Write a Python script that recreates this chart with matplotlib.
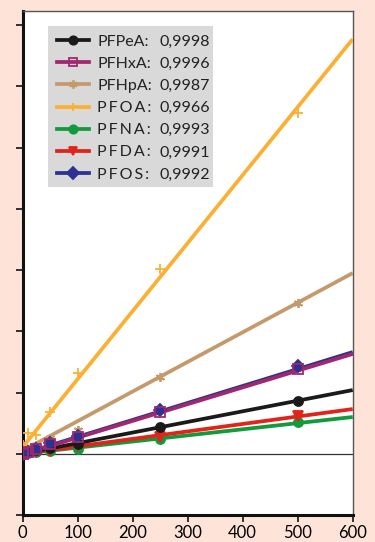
import matplotlib.pyplot as plt
from matplotlib.patches import Rectangle

# calibration data (arbitrary y units)
conc = [0, 10, 25, 50, 100, 250, 500]
ts = '\u2009'
names = ['PFPeA:', 'PFHxA:', 'PFHpA:', ts.join('PFOA:'), ts.join('PFNA:'),
         ts.join('PFDA:'), ts.join('PFOS:')]
r2_labels = ['0,9998', '0,9996', '0,9987', '0,9966', '0,9993', '0,9991', '0,9992']

pfpea = [0.0, 0.03, 0.06, 0.10, 0.16, 0.44, 0.86]
pfhxa = [0.0, 0.03, 0.08, 0.16, 0.28, 0.69, 1.38]
pfhpa = [0.02, 0.08, 0.15, 0.25, 0.39, 1.25, 2.46]
pfoa = [0.15, 0.34, 0.30, 0.68, 1.32, 3.02, 5.56]
pfna = [0.0, 0.02, 0.03, 0.05, 0.08, 0.24, 0.52]
pfda = [0.0, 0.01, 0.03, 0.05, 0.12, 0.28, 0.62]
pfos = [0.0, 0.03, 0.08, 0.17, 0.29, 0.71, 1.43]

# regression line ends at x=0 and x=600
fit_x = [0, 600]
fit_start = [0.0, -0.01, 0.05, 0.11, 0.0, 0.0, 0.0]
fit_end = [1.04, 1.63, 2.95, 6.77, 0.60, 0.73, 1.66]

colors = ['#1a1a1a', '#a0286e', '#c49a6c', '#fbb034', '#129a3c', '#e2231a', '#2e3192']
markers = ['o', 's', (6, 2, 0), '+', 'o', 'v', 'D']
filled = [True, False, True, True, True, True, True]
series = [pfpea, pfhxa, pfhpa, pfoa, pfna, pfda, pfos]
zorder = [5, 6, 4, 3, 4, 4, 5]

plt.rcParams['font.family'] = ['Lato', 'DejaVu Sans']

fig = plt.figure(figsize=(3.75, 5.42), dpi=100)
fig.patch.set_facecolor('#fde3d8')
ax = fig.add_axes([0.0605, 0.0498, 0.88, 0.93])

ax.axhline(0, color='#333333', lw=0.9, zorder=1)

handles = []
for i, ys in enumerate(series):
    ax.plot(fit_x, [fit_start[i], fit_end[i]], color=colors[i], lw=2.7, zorder=zorder[i],
            solid_capstyle='butt')
    ax.plot(conc, ys, ls='none', marker=markers[i], color=colors[i], ms=6.5,
            mfc=colors[i] if filled[i] else 'none', mew=1.3, zorder=zorder[i] + 1)
    h, = ax.plot([], [], color=colors[i], lw=2.7, marker=markers[i], ms=6,
                 mfc=colors[i] if filled[i] else 'none', mew=1.3)
    handles.append(h)

ax.set_xlim(0, 600)
ax.set_ylim(-1, 7.23)
ax.set_xticks(range(0, 601, 100))
ax.set_yticks(range(-1, 8))
ax.set_yticklabels([])
ax.tick_params(axis='both', direction='out', length=5, width=1.3, color='#222222',
               labelsize=12, pad=2)
for s in ['left', 'bottom']:
    ax.spines[s].set_linewidth(2.2)
    ax.spines[s].set_color('#111111')
for s in ['top', 'right']:
    ax.spines[s].set_linewidth(1.0)
    ax.spines[s].set_color('#555555')

# grey legend box
ax.add_patch(Rectangle((0.077, 0.65), 0.5, 0.32, transform=ax.transAxes,
                       facecolor='#d9d9d9', edgecolor='none', zorder=8))
leg = ax.legend(handles, names, loc='upper left', bbox_to_anchor=(0.085, 0.966),
                frameon=False, fontsize=11.5, handlelength=2.0, handletextpad=0.5,
                labelspacing=0.5, borderaxespad=0)
leg.set_zorder(9)

fig.canvas.draw()
inv = ax.transAxes.inverted()
for t, val in zip(leg.get_texts(), r2_labels):
    bb = t.get_window_extent()
    yc = inv.transform((0, (bb.y0 + bb.y1) / 2))[1]
    ax.text(0.416, yc, val, transform=ax.transAxes, fontsize=11.5, va='center',
            color='#222222', zorder=10)
for t in leg.get_texts():
    t.set_color('#222222')

fig.savefig('out.png', dpi=100, facecolor=fig.get_facecolor())
